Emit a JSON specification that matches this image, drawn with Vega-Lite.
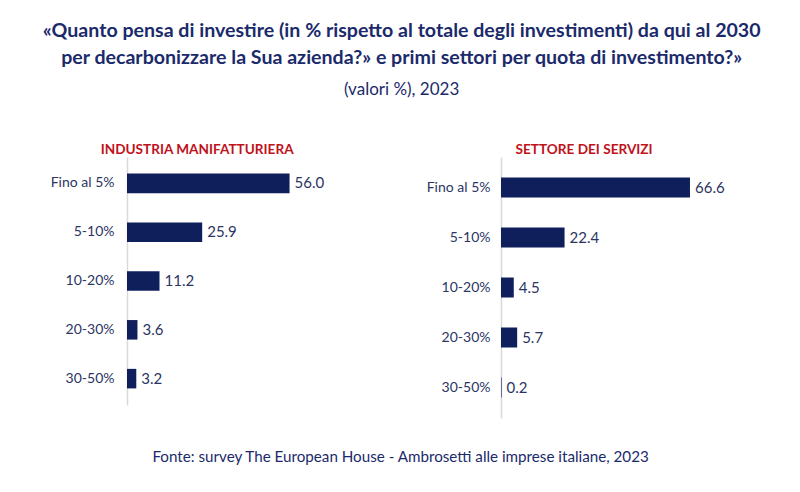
{
  "$schema": "https://vega.github.io/schema/vega-lite/v6.json",
  "background": "white",
  "padding": {"left": 42, "right": 10, "top": 20, "bottom": 10},
  "title": {
    "text": ["«Quanto pensa di investire (in % rispetto al totale degli investimenti) da qui al 2030", "per decarbonizzare la Sua azienda?» e primi settori per quota di investimento?»"],
    "subtitle": "(valori %), 2023",
    "font": "Lato", "fontSize": 19.6, "fontWeight": "bold", "color": "#1b2a6b", "lineHeight": 27,
    "subtitleFont": "Lato", "subtitleFontSize": 17, "subtitleColor": "#1b2a6b", "subtitlePadding": 14,
    "anchor": "middle", "offset": 44, "dx": 12.5
  },
  "datasets": {
    "manifattura": [
      {"classe": "Fino al 5%", "valore": 56.0},
      {"classe": "5-10%", "valore": 25.9},
      {"classe": "10-20%", "valore": 11.2},
      {"classe": "20-30%", "valore": 3.6},
      {"classe": "30-50%", "valore": 3.2}
    ],
    "servizi": [
      {"classe": "Fino al 5%", "valore": 66.6},
      {"classe": "5-10%", "valore": 22.4},
      {"classe": "10-20%", "valore": 4.5},
      {"classe": "20-30%", "valore": 5.7},
      {"classe": "30-50%", "valore": 0.2}
    ]
  },
  "config": {"view": {"stroke": null}, "concat": {"spacing": 90}},
  "vconcat": [
    {
      "title": {"text": "Fonte: survey The European House - Ambrosetti alle imprese italiane, 2023", "orient": "bottom", "anchor": "middle", "font": "Lato", "fontSize": 15.2, "fontWeight": "normal", "color": "#1b2a6b", "offset": 32, "dx": 11.5},
      "hconcat": [
        {
          "data": {"name": "manifattura"},
          "title": {"text": "INDUSTRIA MANIFATTURIERA", "color": "#c0121c", "font": "Lato", "fontSize": 13.6, "fontWeight": "bold", "anchor": "middle", "frame": "bounds", "offset": 0, "dx": 4},
          "width": 209, "height": 248,
          "encoding": {
            "y": {"field": "classe", "type": "nominal", "sort": null, "scale": {"paddingInner": 0.6, "paddingOuter": 0.34},
              "axis": {"title": null, "ticks": false, "labelFont": "Lato", "labelFontSize": 14, "labelColor": "#2b3563", "labelPadding": 13, "domainColor": "#d9d9d9", "domainWidth": 1.5}},
            "x": {"field": "valore", "type": "quantitative", "scale": {"domain": [0, 72]}, "axis": null}
          },
          "layer": [
            {"mark": {"type": "bar", "color": "#0f1f5c"}},
            {"mark": {"type": "text", "align": "left", "dx": 5, "font": "Lato", "fontSize": 15, "color": "#2b3563"}, "encoding": {"text": {"field": "valore", "format": ".1f"}}}
          ]
        },
        {
          "data": {"name": "servizi"},
          "title": {"text": "SETTORE DEI SERVIZI", "color": "#c0121c", "font": "Lato", "fontSize": 13.6, "fontWeight": "bold", "anchor": "middle", "frame": "bounds", "offset": 0, "dx": 7},
          "width": 227, "height": 261,
          "encoding": {
            "y": {"field": "classe", "type": "nominal", "sort": null, "scale": {"paddingInner": 0.6, "paddingOuter": 0.41},
              "axis": {"title": null, "ticks": false, "labelFont": "Lato", "labelFontSize": 14, "labelColor": "#2b3563", "labelPadding": 11, "domainColor": "#d9d9d9", "domainWidth": 1.5}},
            "x": {"field": "valore", "type": "quantitative", "scale": {"domain": [0, 80]}, "axis": null}
          },
          "layer": [
            {"mark": {"type": "bar", "color": "#0f1f5c"}},
            {"mark": {"type": "text", "align": "left", "dx": 5, "font": "Lato", "fontSize": 15, "color": "#2b3563"}, "encoding": {"text": {"field": "valore", "format": ".1f"}}}
          ]
        }
      ]
    }
  ]
}
